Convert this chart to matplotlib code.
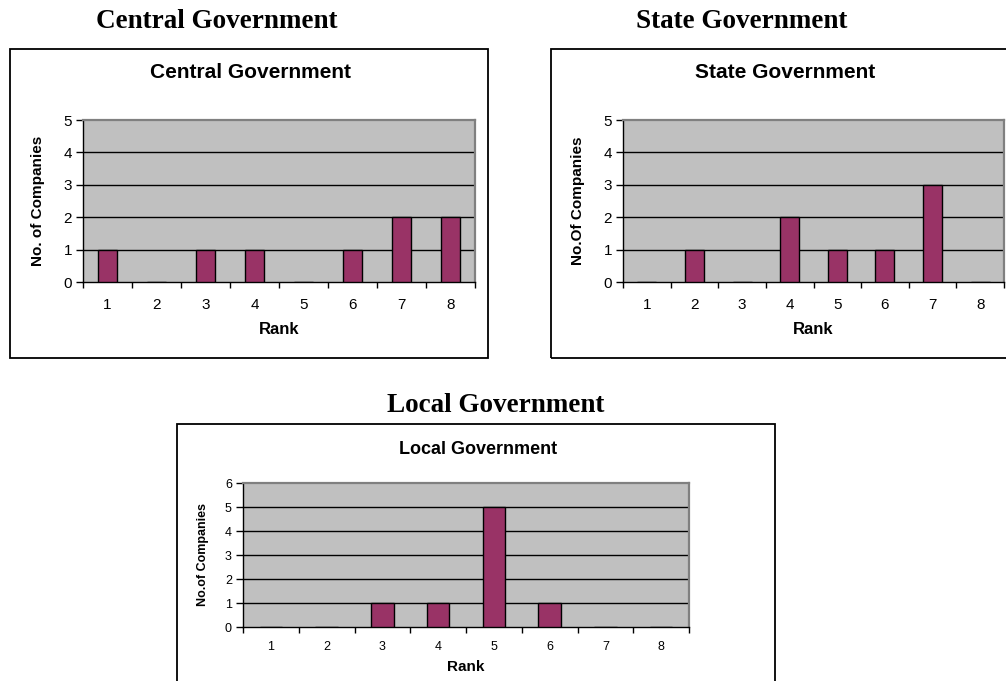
import matplotlib
matplotlib.use('Agg')
import matplotlib.pyplot as plt
from matplotlib.patches import Rectangle
import numpy as np

# data
ranks = ['1', '2', '3', '4', '5', '6', '7', '8']
central = [1, 0, 1, 1, 0, 1, 2, 2]
state = [0, 1, 0, 2, 1, 1, 3, 0]
local = [0, 0, 1, 1, 5, 1, 0, 0]

W, H = 1006, 681
BAR = '#993366'
PLOT_BG = '#C0C0C0'
SANS = 'Liberation Sans'
SERIF = 'Liberation Serif'

fig = plt.figure(figsize=(W / 100, H / 100), dpi=100)
fig.patch.set_facecolor('white')


def fx(x):
    return x / W


def fy(y):
    return 1 - y / H


def add_box(x0, y0, x1, y1):
    r = Rectangle((fx(x0), fy(y1)), fx(x1 - x0), (y1 - y0) / H,
                  transform=fig.transFigure, fill=False,
                  edgecolor='black', linewidth=1.3, clip_on=False)
    fig.add_artist(r)


def panel(values, ylabel, title, outer_title, plot_px, box_px,
          title_xy, outer_xy, ylab_x, rank_y, ymax, fs):
    x0, y0, x1, y1 = plot_px
    add_box(*box_px)
    fig.text(fx(outer_xy[0]), fy(outer_xy[1]), outer_title, family=SERIF,
             fontweight='bold', fontsize=fs['outer'], ha='center', va='center')
    fig.text(fx(title_xy[0]), fy(title_xy[1]), title, family=SANS,
             fontweight='bold', fontsize=fs['title'], ha='center', va='center')

    ax = fig.add_axes([fx(x0), fy(y1), fx(x1 - x0), (y1 - y0) / H])
    ax.set_facecolor(PLOT_BG)
    x = np.arange(1, len(values) + 1)
    ax.bar(x, values, width=0.4, color=BAR, edgecolor='black',
           linewidth=1.0, zorder=3)
    ax.set_xlim(0.5, len(values) + 0.5)
    ax.set_ylim(0, ymax)

    ax.set_yticks(range(ymax + 1))
    ax.set_yticklabels([str(v) for v in range(ymax + 1)], family=SANS,
                       fontsize=fs['tick'])
    for v in range(1, ymax):
        ax.axhline(v, color='black', linewidth=1.0, zorder=1)

    ax.set_xticks(np.arange(0.5, len(values) + 1, 1.0))
    ax.set_xticklabels([])
    ax.set_xticks(x, minor=True)
    ax.set_xticklabels(ranks, minor=True, family=SANS, fontsize=fs['tick'])
    ax.tick_params(axis='x', which='major', direction='out', length=4,
                   width=1, color='black')
    ax.tick_params(axis='x', which='minor', length=0, pad=fs['xpad'])
    ax.tick_params(axis='y', direction='out', length=5, width=1,
                   pad=fs['ypad'])

    for s in ('top', 'right'):
        ax.spines[s].set_color('#808080')
        ax.spines[s].set_linewidth(1.6)
    for s in ('left', 'bottom'):
        ax.spines[s].set_color('black')
        ax.spines[s].set_linewidth(1.0)

    ax.set_ylabel(ylabel, family=SANS, fontweight='bold', fontsize=fs['ylab'])
    ax.yaxis.set_label_coords((ylab_x - x0) / (x1 - x0), 0.5)
    ax.yaxis.label.set_va('center')
    ax.set_xlabel('Rank', family=SANS, fontweight='bold', fontsize=fs['xlab'])
    ax.xaxis.set_label_coords(0.5, -(rank_y - y1) / (y1 - y0))
    ax.xaxis.label.set_va('center')
    return ax


big = {'outer': 19.5, 'title': 15, 'tick': 11, 'xpad': 11.5, 'ypad': 3,
       'ylab': 11, 'xlab': 12}
small = {'outer': 19.5, 'title': 13, 'tick': 9, 'xpad': 10, 'ypad': 3,
         'ylab': 9, 'xlab': 11}

panel(central, 'No. of Companies', 'Central Government', 'Central Government',
      (83, 120, 475, 282), (10, 49, 488, 358), (250, 73), (217, 21),
      38, 330, 5, big)
panel(state, 'No.Of Companies', 'State Government', 'State Government',
      (623, 120, 1004, 282), (551, 49, 1030, 358), (785, 73), (742, 21),
      578, 330, 5, big)
panel(local, 'No.of Companies', 'Local Government', 'Local Government',
      (243, 483, 689, 627), (177, 424, 775, 700), (478, 449), (496, 406),
      203, 667, 6, small)

fig.savefig('out.png', dpi=100)
